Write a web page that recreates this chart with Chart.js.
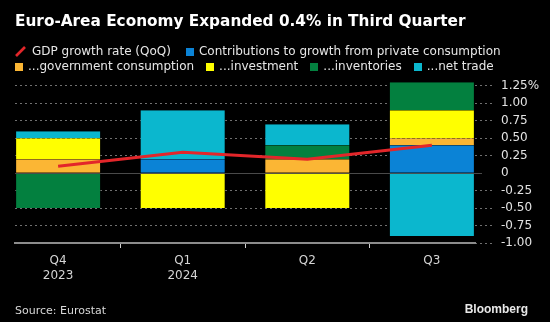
<!DOCTYPE html>
<html>
<head>
<meta charset="utf-8">
<script src="https://cdn.jsdelivr.net/npm/chart.js@4.4.1/dist/chart.umd.min.js"></script>
<style>
html,body{margin:0;padding:0;background:#000;}
#wrap{position:relative;width:550px;height:322px;overflow:hidden;background:#000;}
#chart{position:absolute;left:0;top:0;}
#legend{position:absolute;left:15px;top:44px;width:530px;font:12px/15px 'DejaVu Sans',sans-serif;color:#e6e6e6;}
.row{display:flex;white-space:nowrap;height:15px;}
.item{display:flex;align-items:center;margin-right:12px;}
.sw{width:8px;height:8px;margin-right:5px;flex:none;}
.slash{margin-right:6px;flex:none;}
#source{position:absolute;left:15px;top:303px;font:11px/15px 'DejaVu Sans',sans-serif;color:#d8d8d8;}
#brand{position:absolute;right:22px;top:302px;font:bold 12px/15px 'Liberation Sans',sans-serif;color:#e8e8e8;}
</style>
</head>
<body>
<div id="wrap">
  <canvas id="chart" width="550" height="322"></canvas>
  <div id="legend"></div>
  <div id="source">Source: Eurostat</div>
  <div id="brand">Bloomberg</div>
</div>
<script>
// ---- data ----
const quarters = ['Q4', 'Q1', 'Q2', 'Q3'];
const years = ['2023', '2024', '', ''];
const gdpGrowth = [0.1, 0.3, 0.2, 0.4];
const privateConsumption = [0, 0.2, 0, 0.4];
const governmentConsumption = [0.2, 0, 0.2, 0.1];
const investment = [0.3, -0.5, -0.5, 0.4];
const inventories = [-0.5, 0, 0.2, 0.4];
const netTrade = [0.1, 0.7, 0.3, -0.9];
const yTickValues = [-1, -0.75, -0.5, -0.25, 0, 0.25, 0.5, 0.75, 1, 1.25];

const seriesNames = {
  gdp: 'GDP growth rate (QoQ)',
  priv: 'Contributions to growth from private consumption',
  gov: '...government consumption',
  inv: '...investment',
  invt: '...inventories',
  nt: '...net trade'
};

const colors = {
  gdp: '#e3262a',
  priv: '#0b83d6',
  gov: '#fbb634',
  inv: '#ffff00',
  invt: '#03803f',
  nt: '#0bb7ce'
};

const toXY = arr => arr.map((v, i) => ({ x: i, y: v }));

function barSet(key, values) {
  return {
    type: 'bar',
    label: seriesNames[key],
    data: toXY(values),
    backgroundColor: colors[key],
    borderColor: 'rgba(0,0,0,0.35)',
    borderWidth: { left: 1, right: 1, top: 0, bottom: 0 },
    borderSkipped: false,
    barPercentage: 0.69,
    categoryPercentage: 1,
    stack: 'contrib',
    order: 1,
    clip: false,
    xAxisID: 'x',
    yAxisID: 'y'
  };
}

const datasets = [
  {
    type: 'line',
    label: seriesNames.gdp,
    data: toXY(gdpGrowth),
    borderColor: colors.gdp,
    backgroundColor: colors.gdp,
    borderWidth: 3,
    pointRadius: 0,
    tension: 0,
    order: 0,
    stack: 'gdp',
    xAxisID: 'x',
    yAxisID: 'y'
  },
  barSet('priv', privateConsumption),
  barSet('gov', governmentConsumption),
  barSet('inv', investment),
  barSet('invt', inventories),
  barSet('nt', netTrade)
];

const chart = new Chart(document.getElementById('chart'), {
  data: { datasets },
  options: {
    responsive: false,
    animation: false,
    devicePixelRatio: 1,
    layout: { padding: { left: 15, right: 0, top: 0, bottom: 34 } },
    plugins: {
      legend: { display: false },
      tooltip: { enabled: false },
      title: {
        display: true,
        text: 'Euro-Area Economy Expanded 0.4% in Third Quarter',
        align: 'start',
        color: '#ffffff',
        font: { family: 'DejaVu Sans', size: 15.3, weight: 'bold', lineHeight: 1.2 },
        padding: { top: 12.5, bottom: 55 }
      }
    },
    scales: {
      x: {
        type: 'linear',
        position: 'bottom',
        min: -0.346,
        max: 3.346,
        stacked: true,
        offset: false,
        afterBuildTicks: s => { s.ticks = quarters.map((q, i) => ({ value: i })); },
        ticks: {
          color: '#d4d4d4',
          padding: 5,
          font: { family: 'DejaVu Sans', size: 12, lineHeight: 1.25 },
          maxRotation: 0,
          autoSkip: false,
          callback: v => {
            const i = Math.round(v);
            return years[i] ? [quarters[i], years[i]] : quarters[i];
          }
        },
        grid: {
          drawOnChartArea: false,
          drawTicks: true,
          tickLength: 5,
          tickColor: '#cfcfcf',
          tickWidth: 1
        },
        border: { display: true, color: '#8c8c8c', width: 2 }
      },
      y: {
        type: 'linear',
        position: 'right',
        min: -1,
        max: 1.25,
        stacked: true,
        afterBuildTicks: s => { s.ticks = yTickValues.map(v => ({ value: v })); },
        afterFit: s => { s.width = 75; },
        ticks: {
          color: '#e2e2e2',
          padding: 9,
          autoSkip: false,
          font: { family: 'DejaVu Sans', size: 12 },
          callback: v => {
            if (Math.abs(v) < 1e-9) return '0';
            const t = v.toFixed(2);
            return Math.abs(v - 1.25) < 1e-9 ? t + '%' : t;
          }
        },
        grid: {
          drawOnChartArea: true,
          drawTicks: true,
          tickLength: 17,
          lineWidth: 1,
          color: c => (c.tick && Math.abs(c.tick.value) < 1e-9) ? 'rgba(0,0,0,0)' : '#707070',
          tickColor: c => (c.tick && Math.abs(c.tick.value) < 1e-9) ? '#4a4a4a' : '#707070',
          tickBorderDash: c => (c.tick && Math.abs(c.tick.value) < 1e-9) ? [7, 40] : [2, 3]
        },
        border: { display: false, dash: [2, 3] }
      },
      y2: {
        type: 'linear',
        position: 'left',
        min: -1,
        max: 1.25,
        z: 1,
        afterBuildTicks: s => { s.ticks = [{ value: 0 }]; },
        afterFit: s => { s.width = 0; },
        ticks: { display: false },
        grid: {
          drawTicks: false,
          lineWidth: 1,
          color: c => (c.tick && Math.abs(c.tick.value) < 1e-9) ? '#4a4a4a' : 'rgba(0,0,0,0)'
        },
        border: { display: false }
      }
    }
  }
});

// ---- HTML legend built from the datasets ----
const legend = document.getElementById('legend');
const rows = [[0, 1], [2, 3, 4, 5]];
rows.forEach(idxs => {
  const row = document.createElement('div');
  row.className = 'row';
  idxs.forEach(i => {
    const ds = chart.data.datasets[i];
    const item = document.createElement('div');
    item.className = 'item';
    if (ds.type === 'line') {
      item.style.marginRight = '15px';
      item.innerHTML = '<svg class="slash" width="11" height="11" viewBox="0 0 11 11"><line x1="1" y1="10" x2="10" y2="1" stroke="' + ds.borderColor + '" stroke-width="2.6"/></svg>';
    } else {
      const sw = document.createElement('span');
      sw.className = 'sw';
      sw.style.background = ds.backgroundColor;
      item.appendChild(sw);
    }
    const t = document.createElement('span');
    t.textContent = ds.label;
    item.appendChild(t);
    row.appendChild(item);
  });
  legend.appendChild(row);
});
</script>
</body>
</html>
